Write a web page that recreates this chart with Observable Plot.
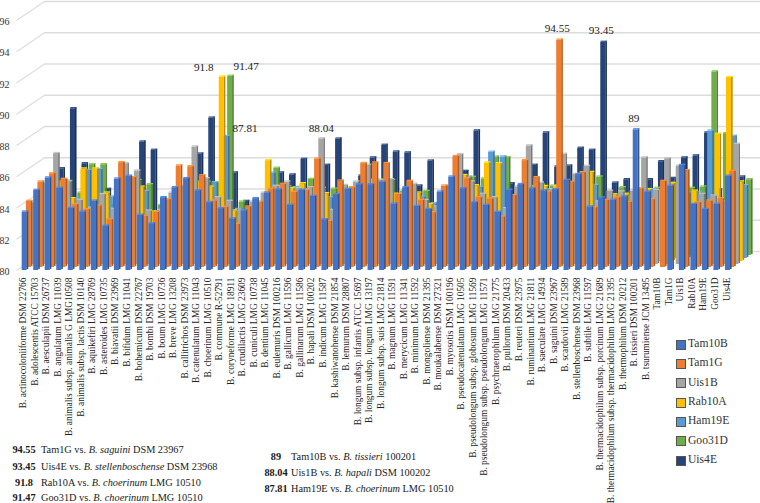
<!DOCTYPE html>
<html>
<head>
<meta charset="utf-8">
<script src="https://cdn.jsdelivr.net/npm/d3@7"></script>
<script src="https://cdn.jsdelivr.net/npm/@observablehq/plot@0.6"></script>
<style>
  html,body{margin:0;padding:0;background:#fff;}
  #wrap{position:relative;width:760px;height:503px;overflow:hidden;font-family:"Liberation Serif",serif;color:#1a1a1a;}
  #wrap svg{position:absolute;left:0;top:0;}
  .note{position:absolute;font-size:10.3px;white-space:nowrap;line-height:12px;}
  .note b{position:absolute;left:0;top:0;width:var(--w);text-align:center;}
  .note span{position:absolute;top:0;left:var(--t);}
  .leg{position:absolute;left:676px;width:8px;height:8px;border:0.5px solid #555;}
  .legt{position:absolute;left:688px;font-size:11.6px;line-height:14px;color:#333;}
</style>
</head>
<body>
<div id="wrap"></div>
<script>
const categories = ["B. actinocoloniiforme DSM 22766","B. adolescentis ATCC 15703","B. aesculapii DSM 26737","B. angulatum LMG 11039","B. animalis subsp. animalis G LMG10508","B. animalis subsp. lactis DSM 10140","B. aquikefiri LMG 28769","B. asteroides LMG 10735","B. biavatii DSM 23969","B. bifidum LMG 11041","B. bohemicum DSM 22767","B. bombi DSM 19703","B. boum LMG 10736","B. breve LMG 13208","B. callitrichos DSM 23973","B. catenulatum LMG 11043","B. choerinum LMG 10510","B. commune R-52791","B. coryneforme LMG 18911","B. crudilactis LMG 23609","B. cuniculi LMG 10738","B. dentium LMG 11045","B. eulemuris DSM 100216","B. gallicum LMG 11596","B. gallinarum LMG 11586","B. hapali DSM 100202","B. indicum LMG 11587","B. kashiwanohense DSM 21854","B. lemurum DSM 28807","B. longum subsp. infantis ATCC 15697","B. longum subsp. longum LMG 13197","B. longum subsp. suis LMG 21814","B. magnum LMG 11591","B. merycicum LMG 11341","B. minimum LMG 11592","B. mongoliense DSM 21395","B. moukalabense DSM 27321","B. myosotis DSM 100196","B. pseudocatenulatum LMG 10505","B. pseudolongum subsp. globosum LMG 11569","B. pseudolongum subsp. pseudolongum LMG 11571","B. psychraerophilum LMG 21775","B. pullorum DSM 20433","B. reuteri DSM 23975","B. ruminantium LMG 21811","B. saeculare LMG 14934","B. saguini DSM 23967","B. scardovii LMG 21589","B. stellenboschense DSM 23968","B. subtile LMG 11597","B. thermacidophilum subsp. porcinum LMG 21689","B. thermacidophilum subsp. thermacidophilum LMG 21395","B. thermophilum DSM 20212","B. tissieri DSM 100201","B. tsurumiense JCM 13495","Tam10B","Tam1G","Uis1B","Rab10A","Ham19E","Goo31D","Uis4E"];

const Tam10B = [83.74,85.13,85.92,85.26,83.97,83.74,84.44,82.84,85.85,86.03,83.53,82.99,84.66,85.3,85.88,85.1,84.34,83.95,83.3,83.82,84.6,84.96,85.17,84.17,85.13,84.74,83.25,84.85,85.19,85.49,85.49,85.64,84.25,85.3,84.1,83.9,85.02,85.98,85.23,84.34,84.17,83.72,85.13,85.5,85.23,85.1,85.17,85.77,86.13,84.06,84.64,84.49,84.72,89,85.02,null,85.4,86.73,84.23,83.9,84.23,86.03];
const Tam1G = [84.23,85.47,86.0,85.64,84.02,83.7,83.93,83.06,86.71,85.75,83.27,83.53,84.34,86.5,86.45,85.87,84.25,83.85,82.76,83.87,84.19,85.02,85.32,84.81,84.92,86.94,82.95,85.53,85.1,86.65,86.69,86.65,84.68,85.51,84.29,83.5,85.21,87.1,85.68,84.47,84.38,83.23,84.6,86.84,85.75,84.83,94.55,85.45,86.07,83.82,84.3,84.47,84.17,85.04,84.34,85.51,null,86.2,84.15,84.25,84.4,86.15];
const Uis1B = [83.9,85.2,87.1,85.28,84.1,83.6,84.47,83.53,86.45,85.98,83.42,83.46,84.57,85.0,87.52,85.49,84.27,84.04,83.42,84.0,84.57,85.0,85.28,84.85,84.91,88.04,83.46,85.06,85.28,86.35,85.38,85.43,84.5,85.13,84.1,83.68,85.0,87.03,85.28,84.49,84.27,83.57,84.96,87.59,85.21,84.79,87.05,85.77,86.28,84.0,84.68,84.64,84.7,86.82,84.74,86.77,86.3,null,84.49,84.38,84.0,87.69];
const Rab10A = [83.5,85.0,85.02,84.02,85.92,85.92,84.38,83.3,85.2,84.76,83.16,83.3,84.2,85.0,85.02,84.76,91.8,83.23,82.8,83.5,86.45,84.8,84.66,84.98,84.7,84.34,83.0,84.7,84.9,85.2,85.2,84.3,83.9,84.38,83.65,83.4,84.7,85.5,84.85,86.3,86.26,83.2,84.6,84.8,84.8,84.8,84.8,85.2,85.7,83.7,84.27,84.3,84.2,84.6,84.5,85.0,84.6,84.5,null,88.14,91.77,85.09];
const Ham19E = [83.3,84.8,85.0,83.8,85.64,85.7,83.93,83.0,85.0,84.29,83.0,83.2,84.0,84.8,84.8,84.85,87.81,83.14,82.7,83.2,85.47,84.6,84.53,84.4,84.4,83.89,82.9,84.5,84.7,85.0,85.0,84.0,83.7,83.93,83.5,83.2,84.5,85.2,84.57,86.8,86.5,83.0,84.4,84.7,84.4,84.4,84.5,85.0,84.68,83.5,84.0,84.0,84.0,84.4,84.3,84.8,84.2,84.2,88.16,null,87.82,84.66];
const Goo31D = [83.2,84.7,84.74,83.99,85.81,85.81,83.27,82.9,84.8,84.53,83.2,83.0,83.9,84.7,84.7,84.66,91.47,83.42,82.6,83.1,85.58,84.4,84.36,84.87,84.3,84.25,82.8,84.4,84.6,84.8,84.8,84.12,83.6,84.1,83.31,83.1,84.4,85.0,84.9,86.3,86.26,82.9,84.3,84.5,84.44,84.3,84.4,84.8,85.02,83.4,84.34,83.9,83.9,84.3,84.2,84.7,84.3,84.38,91.75,87.8,null,84.85];
const Uis4E = [83.0,85.36,89.2,85.68,83.8,84.04,83.0,82.8,87.07,86.54,83.0,82.9,83.8,86.3,88.6,84.5,85.09,83.27,82.5,83.0,85.09,84.96,85.96,84.2,85.58,87.26,82.7,84.89,86.05,86.86,86.43,86.37,84.25,85.85,83.2,83.0,85.19,87.78,84.2,84.2,84.4,82.8,85.58,87.65,85.47,85.53,86.67,86.54,93.45,84.44,84.66,83.8,84.66,85.81,84.74,86.05,86.18,87.65,84.0,84.2,84.83,null];

const seriesNames = ["Tam10B","Tam1G","Uis1B","Rab10A","Ham19E","Goo31D","Uis4E"];
const seriesValues = [Tam10B,Tam1G,Uis1B,Rab10A,Ham19E,Goo31D,Uis4E];
const seriesColors = ["#4472C4","#ED7D31","#A5A5A5","#FFC000","#5B9BD5","#70AD47","#264478"];
const yTicks = [80,82,84,86,88,90,92,94,96];

// labels on the chart: series, category, printed value, nudge
const callouts = [
  {s:"Rab10A", c:"B. choerinum LMG 10510", t:"91.8", dx:-18, dy:-10},
  {s:"Goo31D", c:"B. choerinum LMG 10510", t:"91.47", dx:16, dy:-10},
  {s:"Ham19E", c:"B. choerinum LMG 10510", t:"87.81", dx:19, dy:-8},
  {s:"Uis1B",  c:"B. hapali DSM 100202", t:"88.04", dx:0, dy:-10},
  {s:"Tam1G",  c:"B. saguini DSM 23967", t:"94.55", dx:-2, dy:-12},
  {s:"Uis4E",  c:"B. stellenboschense DSM 23968", t:"93.45", dx:-2, dy:-12},
  {s:"Tam10B", c:"B. tissieri DSM 100201", t:"89", dx:-2, dy:-11}
];
const notesLeft = [["94.55","Tam1G vs. ","B. saguini"," DSM 23967"],["93.45","Uis4E vs. ","B. stellenboschense"," DSM 23968"],["91.8","Rab10A vs. ","B. choerinum"," LMG 10510"],["91.47","Goo31D vs. ","B. choerinum"," LMG 10510"]];
const notesRight = [["89","Tam10B vs. ","B. tissieri"," 100201"],["88.04","Uis1B vs. ","B. hapali"," DSM 100202"],["87.81","Ham19E vs. ","B. choerinum"," LMG 10510"]];

const DX = 4.2, DY = 3;      // pixel shift per depth row
const unitX = (726-22.7)/61, unitY = 15.6;
const wall = {near:-0.58, far:1.85, rise:19};

const marks = [];
// back wall + side wall
marks.push(Plot.ruleY(yTicks,{x1:wall.far,x2:64,dy:-wall.rise,stroke:"#dcdcdc",strokeWidth:1.3}));
marks.push(Plot.link(yTicks,{x1:wall.near,x2:wall.far,y1:d=>d,y2:d=>d+wall.rise/unitY,stroke:"#dcdcdc",strokeWidth:1.1}));

// bars, back row first
for (let d = seriesNames.length-1; d >= 0; d--) {
  const rows = seriesValues[d].map((v,i)=>({i,v})).filter(r=>r.v!=null);
  const col = d3.color(seriesColors[d]);
  const side = col.darker(0.9).formatHex();
  const cap = col.brighter(0.5).formatHex();
  const w0=-0.09, w1=0.35, sw=0.135;
  const o = {dx:DX*d, dy:-DY*d};
  marks.push(Plot.rect(rows,{x1:r=>r.i+w1-0.01,x2:r=>r.i+w1+sw,y1:80,y2:r=>r.v,fill:side,dx:o.dx,dy:o.dy-1}));
  marks.push(Plot.rect(rows,{x1:r=>r.i+w0,x2:r=>r.i+w1,y1:80,y2:r=>r.v,fill:seriesColors[d],dx:o.dx,dy:o.dy}));
  marks.push(Plot.rect(rows,{x1:r=>r.i+w0+0.03,x2:r=>r.i+w1+sw,y1:r=>r.v,y2:r=>r.v+1.2/unitY,fill:cap,dx:o.dx,dy:o.dy}));
}

// callouts
for (const c of callouts) {
  const k = seriesNames.indexOf(c.s), i = categories.indexOf(c.c);
  marks.push(Plot.text([c],{x:()=>i+0.13,y:()=>seriesValues[k][i],text:"t",dx:DX*k+c.dx,dy:-DY*k+c.dy,fontSize:11.2,fill:"#1a1a1a"}));
}

marks.push(Plot.axisY({ticks:yTicks,tickSize:0,tickPadding:4,label:null,fontSize:10,color:"#333",dy:1.5}));
marks.push(Plot.axisX({ticks:categories.map((_,i)=>i),tickFormat:i=>categories[i],tickSize:0,tickPadding:7,tickRotate:-90,label:null,fontSize:9.4,color:"#222"}));

const chart = Plot.plot({
  width:760, height:503,
  marginTop:20, marginBottom:233, marginLeft:13, marginRight:0,
  x:{type:"linear",domain:[0,61],range:[22.7,726]},
  y:{type:"linear",domain:[80,96]},
  style:{background:"transparent",fontFamily:"'Liberation Serif',serif",overflow:"visible"},
  marks
});
const wrap = document.getElementById("wrap");
wrap.appendChild(chart);

// legend
const legY = [344,363.3,382.6,402,421.2,440.6,460];
seriesNames.forEach((n,i)=>{
  const s=document.createElement("div");s.className="leg";s.style.top=(legY[i]-4.5)+"px";s.style.background=seriesColors[i];wrap.appendChild(s);
  const t=document.createElement("div");t.className="legt";t.style.top=(legY[i]-7)+"px";t.textContent=n;wrap.appendChild(t);
});
// notes
function note(rows,left,w,tx,ys){
  rows.forEach((r,i)=>{
    const n=document.createElement("div");n.className="note";
    n.style.cssText=`left:${left}px;top:${ys[i]-6}px;--w:${w}px;--t:${tx}px;`;
    const b=document.createElement("b");b.textContent=r[0];n.appendChild(b);
    const s=document.createElement("span");
    s.appendChild(document.createTextNode(r[1]));
    const em=document.createElement("i");em.textContent=r[2];s.appendChild(em);
    s.appendChild(document.createTextNode(r[3]));
    n.appendChild(s);wrap.appendChild(n);
  });
}
note(notesLeft,12,24,29,[450,466.5,482.5,498]);
note(notesRight,263,26,28,[457,473,488.5]);
</script>
</body>
</html>
